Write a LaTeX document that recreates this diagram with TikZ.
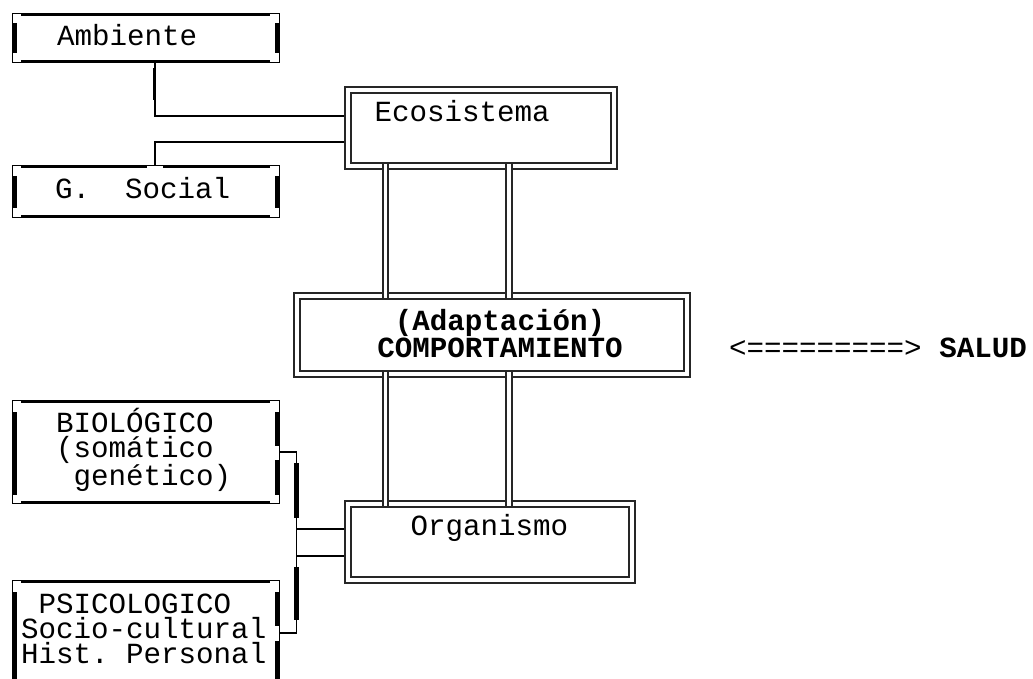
\documentclass[tikz,border=0pt]{standalone}
\usepackage{fontspec}
\newfontfamily\mono{Liberation Mono}
\newcommand\dfont{\mono\fontsize{29.2}{25.4}\selectfont}
\begin{document}
\frenchspacing
\begin{tikzpicture}[x=1pt,y=-1pt,
  txt/.style={font=\dfont, inner sep=0pt, outer sep=0pt, text=black},
  btxt/.style={font=\dfont\bfseries, inner sep=0pt, outer sep=0pt, text=black},
  sbox/.style={draw=black, line width=1.3pt, rectangle, inner sep=0pt, outer sep=0pt},
  dbox/.style={draw=black!85, line width=1.9pt, double=white, double distance=3.9pt,
               rectangle, inner sep=0pt, outer sep=0pt},
  dline/.style={draw=black!85, line width=1.9pt, double=white, double distance=3.9pt},
  conn/.style={draw=black, line width=2pt},
  bconn/.style={draw=black, line width=1.5pt},
  vbar/.style={draw=black, line width=4.4pt},
  hbar/.style={draw=black, line width=2.6pt},
]
\clip (0,0) rectangle (1033,679);
\fill[white] (0,0) rectangle (1033,679);

% ---- single-line boxes on the left ----
\node[sbox, minimum width=266.7pt, minimum height=48.7pt]  (amb) at (146,38)    {};
\node[sbox, minimum width=266.7pt, minimum height=51.7pt]  (gs)  at (146,191.5) {};
\node[sbox, minimum width=266.7pt, minimum height=102.7pt] (bio) at (146,452)   {};
\node[sbox, minimum width=266.7pt, minimum height=138.7pt] (psi) at (146,650)   {};

% heavy strokes along the box edges
\draw[vbar] (14.4,23) -- (14.4,53);   \draw[vbar] (277.6,23) -- (277.6,53);
\draw[hbar] (21,14.3) -- (270,14.3);  \draw[hbar] (21,61.7) -- (270,61.7);

\draw[vbar] (14.4,176) -- (14.4,208); \draw[vbar] (277.6,176) -- (277.6,208);
\draw[hbar] (21,166.3) -- (147,166.3); \draw[hbar] (163,166.3) -- (270,166.3);
\draw[hbar] (21,216.7) -- (270,216.7);

\draw[vbar] (14.4,412) -- (14.4,495);
\draw[vbar] (277.6,412) -- (277.6,446); \draw[vbar] (277.6,460) -- (277.6,495);
\draw[hbar] (21,401.3) -- (270,401.3); \draw[hbar] (21,502.7) -- (270,502.7);

\draw[vbar] (14.4,592) -- (14.4,690);
\draw[vbar] (277.6,592) -- (277.6,626); \draw[vbar] (277.6,641) -- (277.6,690);
\draw[hbar] (21,581.3) -- (270,581.3);

% ---- double-line boxes ----
\node[dbox, minimum width=266.3pt, minimum height=76.3pt] (eco)  at (481,128)    {};
\node[dbox, minimum width=389.8pt, minimum height=78.3pt] (comp) at (491.75,335) {};
\node[dbox, minimum width=284.3pt, minimum height=76.3pt] (org)  at (490,542)    {};

% ---- texts ----
\node[txt, anchor=base west] (ambT) at (57,46)  {Ambiente};
\node[txt, anchor=base west] (gsT)  at (55,199) {G.\ \ Social};
\node[txt, anchor=base west] (ecoT) at (374.5,122) {Ecosistema};
\node[btxt, align=center, anchor=base] (compT) at (500,357.4) {(Adaptación)\\COMPORTAMIENTO};
\node[txt, anchor=base west] (orgT) at (410.5,535) {Organismo};
\node[txt, align=left, anchor=base west] (bioT) at (56,485.8)
  {BIOLÓGICO\\(somático\\\phantom{(}genético)};
\node[txt, align=left, anchor=base west] (psiT) at (21,663.8)
  {\phantom{S}PSICOLOGICO\\Socio-cultural\\Hist. Personal};
\node[txt, anchor=base west] (salT) at (729,357) {<=========>\ \textbf{SALUD}};

% ---- connectors ----
\coordinate (lx) at (385.5,0);
\coordinate (rx) at (509,0);
\draw[dline, shorten <=-1.95pt, shorten >=-1.95pt] (eco.south -| lx) -- (comp.north -| lx);
\draw[dline, shorten <=-1.95pt, shorten >=-1.95pt] (eco.south -| rx) -- (comp.north -| rx);
\draw[dline, shorten <=-1.95pt, shorten >=-1.95pt] (comp.south -| lx) -- (org.north -| lx);
\draw[dline, shorten <=-1.95pt, shorten >=-1.95pt] (comp.south -| rx) -- (org.north -| rx);

\coordinate (a1) at (154.5,116);
\coordinate (a2) at (154.5,142);
\draw[conn, shorten >=3.85pt] (amb.south -| a1) -- (a1) -- (eco.west |- a1);
\draw[conn, shorten >=3.85pt] (gs.north -| a2) -- (a2) -- (eco.west |- a2);
\draw[line width=3.2pt] (154.5,68) -- (154.5,100);

\coordinate (b1) at (296.5,452);
\coordinate (b2) at (296.5,633);
\draw[bconn] (bio.east |- b1) -- (b1) -- (b2) -- (psi.east |- b2);
\draw[line width=5pt] (296.5,463) -- (296.5,518);
\draw[line width=5pt] (296.5,567) -- (296.5,620);

\coordinate (c1) at (296.5,529);
\coordinate (c2) at (296.5,556);
\draw[conn, shorten >=3.85pt] (c1) -- (org.west |- c1);
\draw[conn, shorten >=3.85pt] (c2) -- (org.west |- c2);
\end{tikzpicture}
\end{document}
